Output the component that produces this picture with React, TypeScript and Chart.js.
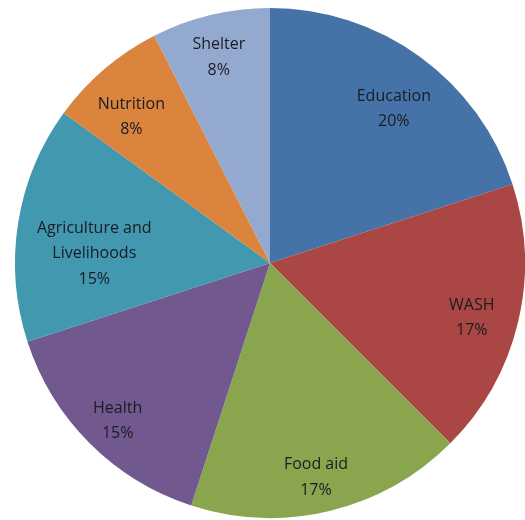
import React, { useEffect, useRef } from "react";
import { Chart, registerables } from "chart.js";

Chart.register(...registerables);

const categories = ["Education", "WASH", "Food aid", "Health", "Agriculture and Livelihoods", "Nutrition", "Shelter"];
const labelLines = [["Education"], ["WASH"], ["Food aid"], ["Health"], ["Agriculture and", "Livelihoods"], ["Nutrition"], ["Shelter"]];
const values = [8, 7, 7, 6, 6, 3, 3];
const percentLabels = ["20%", "17%", "17%", "15%", "15%", "8%", "8%"];
const colors = ["#4572A7", "#AA4643", "#89A54E", "#71588F", "#4198AF", "#DB843D", "#93A9CF"];
const labelRadius = [0.775, 0.82, 0.86, 0.86, 0.69, 0.79, 0.83];
const labelAngleShift = [2.8, 1.7, 1.4, -1, -6, -3, -0.5];

const labelPlugin = {
  id: "sliceLabels",
  afterDatasetsDraw(chart: any) {
    const ctx = chart.ctx;
    const meta = chart.getDatasetMeta(0);
    ctx.save();
    ctx.font = "16px 'Open Sans'";
    ctx.fillStyle = "#1b1b24";
    ctx.textAlign = "center";
    ctx.textBaseline = "middle";
    meta.data.forEach((arc: any, i: number) => {
      const p = arc.getProps(["x", "y", "startAngle", "endAngle", "outerRadius"], true);
      const mid = (p.startAngle + p.endAngle) / 2 + (labelAngleShift[i] * Math.PI) / 180;
      const r = p.outerRadius * labelRadius[i];
      const cx = p.x + Math.cos(mid) * r;
      const cy = p.y + Math.sin(mid) * r;
      const lines = [...labelLines[i], percentLabels[i]];
      const lh = 25.5;
      const top = cy - ((lines.length - 1) * lh) / 2;
      lines.forEach((t, j) => ctx.fillText(t, cx, top + j * lh));
    });
    ctx.restore();
  },
};

export default function App() {
  const ref = useRef<HTMLCanvasElement | null>(null);
  useEffect(() => {
    if (!ref.current) return;
    const chart = new Chart(ref.current, {
      type: "pie",
      data: {
        labels: categories,
        datasets: [{ data: values, backgroundColor: colors, borderWidth: 0 }],
      },
      options: {
        animation: false,
        responsive: false,
        layout: { padding: { left: 15, top: 8, right: 0, bottom: 2 } },
        plugins: { legend: { display: false }, tooltip: { enabled: false } },
      },
      plugins: [labelPlugin],
    });
    return () => chart.destroy();
  }, []);
  return (
    <div style={{ position: "fixed", left: 0, top: 0, width: 525, height: 520, background: "#fff" }}>
      <canvas ref={ref} width={525} height={520} style={{ width: 525, height: 520 }} />
    </div>
  );
}
